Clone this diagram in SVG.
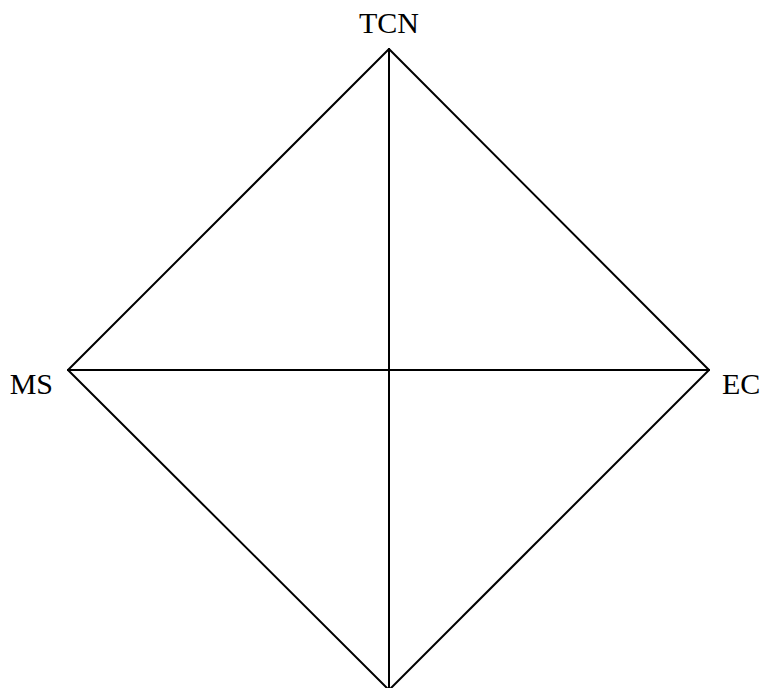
<svg xmlns="http://www.w3.org/2000/svg" width="762" height="688" viewBox="0 0 762 688">
<style>
.e{stroke:#000;stroke-width:2;fill:none;stroke-linecap:round}
.l{font-family:"Liberation Serif","Times New Roman",serif;font-size:30px;fill:#000}
</style>
<rect width="762" height="688" fill="#fff"/>
<g id="connectors">
<line class="e" x1="389" y1="49" x2="68" y2="370"/>
<line class="e" x1="389" y1="49" x2="709" y2="370"/>
<line class="e" x1="68" y1="370" x2="389" y2="690"/>
<line class="e" x1="709" y1="370" x2="389" y2="690"/>
<line class="e" x1="389" y1="49" x2="389" y2="690"/>
<line class="e" x1="68" y1="370" x2="709" y2="370"/>
</g>
<g id="TCN"><text class="l" x="389" y="33" text-anchor="middle">TCN</text></g>
<g id="MS"><text class="l" x="53" y="394" text-anchor="end">MS</text></g>
<g id="EC"><text class="l" x="722" y="394">EC</text></g>
</svg>
